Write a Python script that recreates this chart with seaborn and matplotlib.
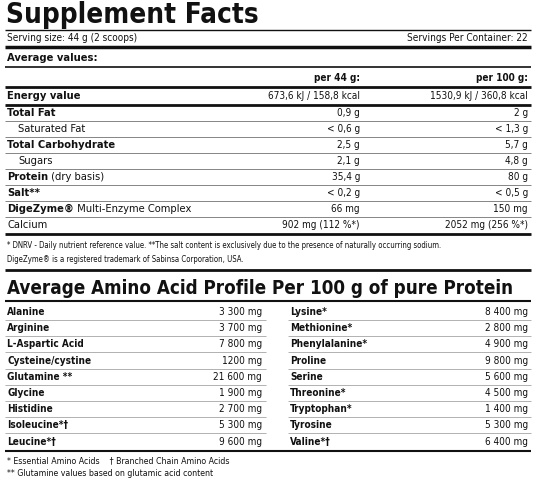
import matplotlib
matplotlib.use("Agg")
import matplotlib.pyplot as plt
import seaborn as sns

sns.set_theme(style="white")
plt.rcParams['font.family'] = ['DejaVu Sans']

nutrients = ["Energy value", "Total Fat", "Saturated Fat", "Total Carbohydrate", "Sugars",
             "Protein", "Salt**", "DigeZyme®", "Calcium"]
nutrient_suffix = ["", "", "", "", "", " (dry basis)", "", " Multi-Enzyme Complex", ""]
nutrient_bold = [True, True, False, True, False, True, True, True, False]
nutrient_indent = [False, False, True, False, True, False, False, False, False]
per44 = ["673,6 kJ / 158,8 kcal", "0,9 g", "< 0,6 g", "2,5 g", "2,1 g", "35,4 g", "< 0,2 g", "66 mg", "902 mg (112 %*)"]
per100 = ["1530,9 kJ / 360,8 kcal", "2 g", "< 1,3 g", "5,7 g", "4,8 g", "80 g", "< 0,5 g", "150 mg", "2052 mg (256 %*)"]

amino_left = ["Alanine", "Arginine", "L-Aspartic Acid", "Cysteine/cystine", "Glutamine **",
              "Glycine", "Histidine", "Isoleucine*†", "Leucine*†"]
amino_left_val = ["3 300 mg", "3 700 mg", "7 800 mg", "1200 mg", "21 600 mg",
                  "1 900 mg", "2 700 mg", "5 300 mg", "9 600 mg"]
amino_right = ["Lysine*", "Methionine*", "Phenylalanine*", "Proline", "Serine",
               "Threonine*", "Tryptophan*", "Tyrosine", "Valine*†"]
amino_right_val = ["8 400 mg", "2 800 mg", "4 900 mg", "9 800 mg", "5 600 mg",
                   "4 500 mg", "1 400 mg", "5 300 mg", "6 400 mg"]

fig = plt.figure(figsize=(5.35, 4.93), dpi=100)
ax = fig.add_axes([0, 0, 1, 1])
ax.set_xlim(0, 535); ax.set_ylim(493, 0); ax.axis("off")
C = "#111111"
FS = 7.2

def t(x, y, s, ha="left", fs=FS, bold=False, **kw):
    ax.text(x, y, s, ha=ha, va="center", fontsize=fs, color=C,
            fontweight="bold" if bold else "normal", fontstretch="condensed", **kw)

def hl(y, lw=0.8, x0=5, x1=531, c=C):
    ax.plot([x0, x1], [y, y], color=c, lw=lw, solid_capstyle="butt")

t(6, 15, "Supplement Facts", fs=20, bold=True)
hl(30, 1.0)
t(7, 38, "Serving size: 44 g (2 scoops)")
t(528, 38, "Servings Per Container: 22", ha="right")
hl(47, 2.5)
t(7, 58, "Average values:", bold=True, fs=8)
hl(67, 1.2)
t(360, 78, "per 44 g:", ha="right", bold=True)
t(528, 78, "per 100 g:", ha="right", bold=True)
hl(87, 2.0)
y = 96
for i, n in enumerate(nutrients):
    x = 18 if nutrient_indent[i] else 7
    txt = ax.text(x, y, n, ha="left", va="center", fontsize=FS, color=C,
                  fontweight="bold" if nutrient_bold[i] else "normal")
    if nutrient_suffix[i]:
        ax.annotate(nutrient_suffix[i], xycoords=txt, xy=(1, 0.5), va="center",
                    fontsize=FS, color=C)
    t(360, y, per44[i], ha="right")
    t(528, y, per100[i], ha="right")
    if i == 0:
        hl(y + 9, 2.0)
        y += 17
    else:
        if i < len(nutrients) - 1:
            hl(y + 8, 0.5, c="#555555")
        y += 16
hl(234, 2.0)
t(7, 245, "* DNRV - Daily nutrient reference value. **The salt content is exclusively due to the presence of naturally occurring sodium.", fs=5.6)
t(7, 259, "DigeZyme® is a registered trademark of Sabinsa Corporation, USA.", fs=5.6)
hl(270, 2.0)
t(7, 288, "Average Amino Acid Profile Per 100 g of pure Protein", fs=13.5, bold=True)
hl(301, 1.5)
y = 312
for i in range(len(amino_left)):
    t(7, y, amino_left[i], bold=True)
    t(262, y, amino_left_val[i], ha="right")
    t(290, y, amino_right[i], bold=True)
    t(528, y, amino_right_val[i], ha="right")
    if i < len(amino_left) - 1:
        hl(y + 8, 0.4, x0=5, x1=266, c="#777777")
        hl(y + 8, 0.4, x0=288, x1=531, c="#777777")
    y += 16.2
hl(451, 1.5)
t(7, 461, "* Essential Amino Acids    † Branched Chain Amino Acids", fs=6.3)
t(7, 474, "** Glutamine values based on glutamic acid content", fs=6.3)

fig.savefig("out.png", dpi=100)
